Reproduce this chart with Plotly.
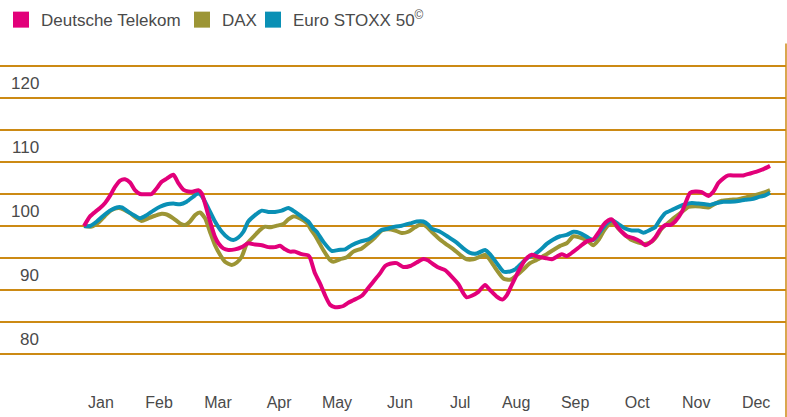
import plotly.graph_objects as go

# ---- data (x = day of year, y = indexed value, start = 100) ----
dt_days = [0, 3.2, 5.9, 8.5, 11.2, 13.8, 16.5, 19.2, 21.8, 24.5, 27.1, 29.8, 33.4, 36.0, 38.7, 41.3, 44.0,
           47.5, 50.2, 52.8, 55.5, 58.2, 60.8, 62.6, 64.4, 66.1, 67.9, 69.7, 71.5, 74.1, 76.8, 80.3, 83.9,
           87.4, 91.0, 94.6, 98.1, 101.6, 104.3, 107.0, 109.6, 112.3, 115.8, 119.3, 120.3, 122.9, 125.6,
           128.2, 130.9, 133.6, 138.0, 140.6, 143.3, 147.8, 150.4, 153.9, 157.5, 160.2, 162.8, 166.4, 169.9,
           173.5, 177.0, 180.5, 183.2, 185.0, 188.6, 192.1, 195.6, 199.2, 201.8, 203.6, 206.3, 209.8, 213.4,
           216.0, 219.6, 222.6, 225.0, 227.6, 231.1, 234.7, 238.2, 241.7, 246.2, 248.9, 251.5, 254.2, 256.8,
           260.4, 263.9, 267.5, 271.0, 273.7, 276.3, 279.0, 280.8, 283.5, 286.1, 288.8, 292.3, 295.9, 298.5,
           301.2, 303.9, 306.5, 309.2, 311.9, 314.5, 318.1, 320.7, 322.5, 325.2, 328.7, 332.2, 334.9, 337.5,
           340.2, 342.8, 346.4, 350.8, 354.4, 357.9, 361.5, 365.0]
dt_vals = [100, 101.5, 102.2, 102.8, 103.6, 104.7, 106.1, 107.1, 107.3, 106.8, 105.6, 105.0, 104.95, 105.0,
           105.9, 106.9, 107.4, 108.0, 106.7, 105.7, 105.4, 105.4, 105.6, 105.1, 103.5, 101.7, 99.9, 98.3,
           97.3, 96.5, 96.25, 96.35, 96.7, 97.3, 97.1, 97.0, 96.7, 96.7, 96.9, 96.35, 96.0, 96.0, 95.6, 95.4,
           95.0, 92.6, 91.0, 89.2, 87.7, 87.3, 87.5, 88.0, 88.4, 89.1, 90.0, 91.3, 92.6, 93.75, 94.1, 94.2,
           93.6, 93.75, 94.3, 94.85, 94.6, 94.2, 93.5, 93.1, 92.1, 90.9, 89.5, 88.85, 89.1, 89.7, 90.8, 90.0,
           88.95, 88.5, 89.2, 90.8, 92.9, 94.7, 95.5, 95.2, 94.95, 94.8, 95.2, 95.6, 95.3, 96.0, 96.8, 97.6,
           97.9, 98.95, 100.15, 100.9, 101.05, 100.0, 99.1, 98.4, 98.1, 97.6, 97.0, 97.4, 98.2, 99.4, 100.15,
           100.15, 100.7, 102.2, 104.1, 105.2, 105.4, 105.3, 104.7, 105.4, 106.7, 107.45, 107.9, 107.9, 107.9,
           108.2, 108.5, 108.9, 109.4]

sx_days = [0, 3.2, 6.8, 10.3, 13.8, 17.4, 20.1, 23.6, 27.1, 29.8, 33.4, 36.9, 40.4, 44.0, 47.5, 51.1, 54.6,
           58.2, 60.8, 62.6, 66.1, 69.7, 73.3, 76.8, 79.5, 82.1, 84.8, 87.4, 91.0, 94.6, 98.1, 101.6, 105.2,
           108.7, 112.3, 115.8, 119.3, 122.0, 123.8, 127.3, 131.8, 135.3, 139.0, 142.4, 146.9, 151.3, 154.8,
           158.4, 161.9, 165.5, 169.0, 173.5, 177.0, 180.5, 183.2, 185.0, 189.4, 193.8, 198.3, 201.8, 205.4,
           208.9, 213.4, 216.0, 219.6, 223.1, 226.7, 229.3, 232.9, 236.4, 240.0, 242.6, 246.2, 249.7, 253.3,
           256.8, 260.4, 263.9, 267.5, 271.0, 274.6, 278.1, 280.8, 284.3, 287.9, 291.4, 295.0, 297.6, 301.2,
           303.9, 306.5, 309.2, 312.8, 316.3, 319.9, 323.4, 326.9, 330.5, 333.2, 336.7, 340.2, 343.8, 348.2,
           351.7, 355.3, 358.8, 362.4, 365.0]
sx_vals = [100, 100.0, 100.7, 101.6, 102.4, 102.9, 102.9, 102.2, 101.6, 101.2, 101.7, 102.4, 103.0, 103.4,
           103.5, 103.4, 103.8, 104.6, 105.1, 104.7, 102.8, 100.7, 99.1, 98.1, 97.8, 98.2, 99.1, 100.7, 101.7,
           102.4, 102.2, 102.2, 102.4, 102.8, 102.2, 101.45, 100.7, 99.6, 99.1, 97.55, 96.1, 96.25, 96.35,
           97.0, 97.55, 97.9, 98.6, 99.4, 99.6, 99.9, 100.05, 100.4, 100.7, 100.7, 100.2, 99.6, 99.1, 98.3,
           97.4, 96.5, 95.8, 95.7, 96.25, 95.6, 94.2, 92.9, 92.9, 93.2, 94.2, 95.1, 95.6, 96.2, 97.2, 97.9,
           98.4, 98.6, 99.1, 98.9, 98.3, 97.8, 99.1, 100.4, 100.9, 100.3, 99.6, 99.3, 99.3, 98.95, 99.4, 99.8,
           101.0, 102.0, 102.5, 103.0, 103.4, 103.6, 103.5, 103.4, 103.3, 103.6, 103.8, 103.8, 103.9, 104.1,
           104.2, 104.5, 104.8, 105.2]

dax_days = [0, 4.1, 7.6, 11.2, 14.7, 18.3, 20.9, 24.5, 28.0, 30.7, 34.2, 37.8, 41.3, 44.0, 47.5, 51.1, 53.7,
            56.4, 59.1, 61.7, 64.4, 67.0, 69.7, 72.4, 75.0, 78.6, 81.3, 83.9, 86.6, 90.1, 93.7, 96.3, 99.0,
            102.6, 106.0, 108.7, 111.4, 114.9, 118.5, 121.1, 123.8, 127.3, 130.9, 132.7, 136.2, 139.8, 143.3,
            147.8, 151.3, 154.8, 158.4, 161.9, 165.5, 169.0, 172.5, 176.1, 179.6, 182.3, 185.0, 188.6, 192.1,
            196.6, 200.1, 203.6, 207.2, 210.7, 213.4, 216.0, 219.6, 223.1, 226.7, 230.2, 233.7, 237.3, 240.8,
            244.4, 246.2, 249.7, 253.3, 256.8, 260.4, 263.9, 267.5, 271.0, 273.7, 276.3, 279.0, 281.6, 284.3,
            287.9, 291.4, 295.0, 298.5, 302.1, 304.7, 307.4, 310.9, 314.5, 318.1, 321.6, 325.2, 328.7, 332.2,
            335.8, 339.3, 343.8, 348.2, 352.6, 357.0, 361.5, 365.0]
dax_vals = [100, 99.9, 100.5, 101.6, 102.5, 102.8, 102.6, 102.0, 101.2, 100.8, 101.2, 101.6, 101.9, 101.8,
            101.2, 100.4, 100.15, 100.7, 101.7, 102.1, 101.2, 99.1, 97.0, 95.5, 94.4, 93.9, 94.3, 95.2, 97.2,
            98.3, 99.4, 99.9, 99.8, 100.05, 100.3, 101.05, 101.5, 101.2, 100.5, 99.3, 98.1, 96.25, 94.7, 94.4,
            94.8, 95.1, 96.0, 96.5, 97.3, 98.2, 99.3, 99.5, 99.3, 98.9, 99.1, 99.8, 100.3, 99.9, 99.1, 98.1,
            97.3, 96.35, 95.5, 94.8, 94.8, 95.2, 95.5, 94.7, 93.1, 91.8, 91.6, 92.3, 93.2, 94.2, 94.7, 95.3,
            95.6, 96.25, 96.9, 97.3, 98.4, 98.2, 97.8, 97.0, 97.8, 99.1, 100.15, 100.5, 99.6, 98.6, 97.8, 97.4,
            97.2, 97.55, 98.4, 99.6, 100.5, 101.4, 102.2, 103.0, 103.1, 103.0, 102.9, 103.5, 103.95, 104.1,
            104.2, 104.5, 104.8, 105.2, 105.6]

month_labels = ["Jan", "Feb", "Mar", "Apr", "May", "Jun", "Jul", "Aug", "Sep", "Oct", "Nov", "Dec"]
month_pos = [9.0, 39.9, 71.3, 103.8, 134.6, 168.1, 200.1, 229.9, 261.3, 294.3, 325.7, 357.6]
y_labels = [80, 90, 100, 110, 120]

names = ["Deutsche Telekom", "DAX", "Euro STOXX 50<sup>©</sup>"]
colors = {"dt": "#E2007A", "dax": "#9C9535", "sx": "#0A90B5"}
grid = "#CC8A14"
font = "Liberation Sans, Arial, sans-serif"
txt = "#4a4a4a"

fig = go.Figure()
line_kw = dict(width=4, shape="spline", smoothing=0.6)
fig.add_trace(go.Scatter(x=dax_days, y=dax_vals, mode="lines", line=dict(color=colors["dax"], **line_kw),
                         showlegend=False, hoverinfo="skip"))
fig.add_trace(go.Scatter(x=sx_days, y=sx_vals, mode="lines", line=dict(color=colors["sx"], **line_kw),
                         showlegend=False, hoverinfo="skip"))
fig.add_trace(go.Scatter(x=dt_days, y=dt_vals, mode="lines", line=dict(color=colors["dt"], **line_kw),
                         showlegend=False, hoverinfo="skip"))
# legend entries (square swatches), one legend each for exact placement
legend_ids = ["legend", "legend2", "legend3"]
for nm, c, lg in zip(names, [colors["dt"], colors["dax"], colors["sx"]], legend_ids):
    fig.add_trace(go.Scatter(x=[None], y=[None], mode="markers", name=nm, legend=lg,
                             marker=dict(symbol="square", size=16, color=c)))

for v in y_labels:
    fig.add_annotation(x=41 / 786, xref="paper", xanchor="right", y=v, yref="y", yanchor="middle",
                       yshift=15, text=str(v), showarrow=False,
                       font=dict(family=font, size=17, color=txt))

fig.add_shape(type="line", xref="paper", yref="paper", x0=1, x1=1, y0=-0.15, y1=1.02,
              line=dict(color=grid, width=1.5))

leg_common = dict(orientation="h", xanchor="left", yref="container", y=0.995, yanchor="top",
                  font=dict(family=font, size=17, color=txt), itemsizing="trace",
                  bgcolor="rgba(0,0,0,0)", borderwidth=0)

fig.update_layout(
    width=787, height=417,
    margin=dict(l=0, r=1, t=50, b=47, autoexpand=False),
    paper_bgcolor="white", plot_bgcolor="white",
    font=dict(family=font, color=txt),
    showlegend=True,
    legend=dict(x=1 / 786, **leg_common),
    legend2=dict(x=182 / 786, **leg_common),
    legend3=dict(x=253 / 786, **leg_common),
    xaxis=dict(range=[-44.7, 373.5], showgrid=False, zeroline=False, showline=False, automargin=False,
               tickmode="array", tickvals=month_pos, ticktext=month_labels,
               ticks="outside", ticklen=18, tickcolor="rgba(0,0,0,0)",
               tickfont=dict(family=font, size=16, color=txt)),
    yaxis=dict(range=[77.5, 127.5], showgrid=True, gridcolor=grid, gridwidth=1.2, automargin=False,
               tick0=0, dtick=5, zeroline=False, showline=False, showticklabels=False),
)

fig.write_html("out.html", config={"displayModeBar": False, "staticPlot": True},
               post_script="document.body.style.margin='0';document.body.style.overflow='hidden';")
